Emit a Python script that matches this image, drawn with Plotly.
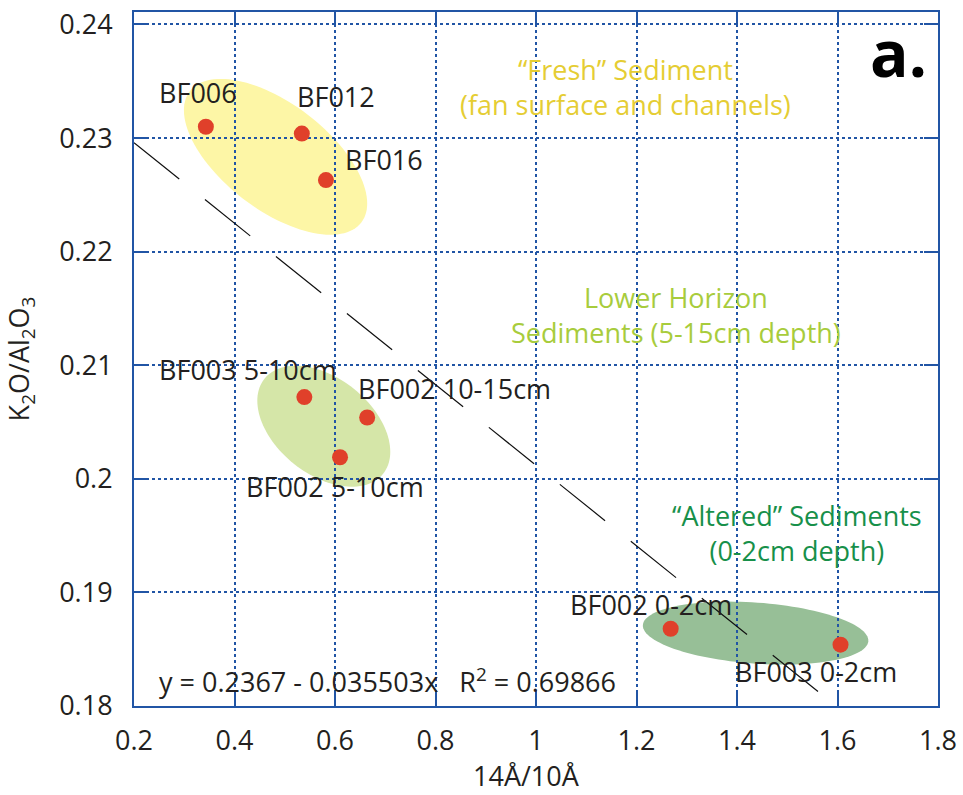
import numpy as np
import plotly.graph_objects as go

# Sample measurements: clay ratio (14Å/10Å) vs K2O/Al2O3
samples = ["BF006", "BF012", "BF016",
           "BF003 5-10cm", "BF002 10-15cm", "BF002 5-10cm",
           "BF002 0-2cm", "BF003 0-2cm"]
clay_ratio = [0.343, 0.534, 0.582, 0.539, 0.664, 0.610, 1.268, 1.606]
k2o_al2o3 = [0.2310, 0.2304, 0.2263, 0.2072, 0.2054, 0.2019, 0.1868, 0.1854]
# label offsets (px) relative to each point
label_dx = [-8, 34, 58, -56, 87, -5, -20, -25]
label_dy = [34, 37, 21, 28, 29, -29, 24, -27]

# Linear fit reported on the chart
fit_intercept = 0.2367
fit_slope = -0.035503
fit_r2 = 0.69866
fit_x = [0.2, 1.57]

# Group envelopes: centre (data), semi-axes (px), tilt (deg, clockwise on screen), fill
groups = ["fresh", "lower", "altered"]
env_cx = [0.4817, 0.5777, 1.437]
env_cy = [0.22835, 0.20463, 0.18642]
env_a = [108, 76, 113]
env_b = [53, 48, 30.5]
env_tilt = [37.4, 38.7, 4.1]
env_fill = ["#fdf6a6", "#d5e6a8", "#97bf97"]

# Group captions
captions = ["\u201cFresh\u201d Sediment<br>(fan surface and channels)",
            "Lower Horizon<br>Sediments (5-15cm depth)",
            "\u201cAltered\u201d Sediments<br>(0-2cm depth)"]
cap_x = [1.179, 1.279, 1.519]
cap_y = [0.23447, 0.21444, 0.19523]
cap_col = ["#e5cd33", "#a8cc3c", "#17904a"]

x_ticks = [0.2, 0.4, 0.6, 0.8, 1.0, 1.2, 1.4, 1.6, 1.8]
x_ticktext = ["0.2", "0.4", "0.6", "0.8", "1", "1.2", "1.4", "1.6", "1.8"]
y_ticks = [0.18, 0.19, 0.20, 0.21, 0.22, 0.23, 0.24]
y_ticktext = ["0.18", "0.19", "0.2", "0.21", "0.22", "0.23", "0.24"]

X_RANGE = [0.2, 1.8]
Y_RANGE = [0.18, 0.2411]
W, H = 963, 795
M = dict(l=134, r=25, t=12, b=89)
PLOT_W = W - M["l"] - M["r"]
PLOT_H = H - M["t"] - M["b"]
px_per_x = PLOT_W / (X_RANGE[1] - X_RANGE[0])
px_per_y = PLOT_H / (Y_RANGE[1] - Y_RANGE[0])

BLUE = "#2155a5"
INK = "#231f20"
FONT = "Open Sans"


def ellipse_path(cx, cy, a, b, tilt_deg, n=120):
    t = np.linspace(0, 2 * np.pi, n, endpoint=False)
    th = np.deg2rad(tilt_deg)
    dx = a * np.cos(t) * np.cos(th) - b * np.sin(t) * np.sin(th)
    dy = a * np.cos(t) * np.sin(th) + b * np.sin(t) * np.cos(th)
    xs = cx + dx / px_per_x
    ys = cy - dy / px_per_y
    pts = [f"{x:.6f},{y:.7f}" for x, y in zip(xs, ys)]
    return "M " + " L ".join(pts) + " Z"


fig = go.Figure()

shapes = []
for i in range(len(groups)):
    shapes.append(dict(type="path", xref="x", yref="y", layer="below",
                       path=ellipse_path(env_cx[i], env_cy[i], env_a[i], env_b[i], env_tilt[i]),
                       fillcolor=env_fill[i], line=dict(width=0)))

# regression line
fx = np.array(fit_x)
fig.add_trace(go.Scatter(x=fx, y=fit_intercept + fit_slope * fx, mode="lines",
                         line=dict(color="#111111", width=1.2, dash="58px,33px"),
                         hoverinfo="skip", showlegend=False))

fig.add_trace(go.Scatter(x=clay_ratio, y=k2o_al2o3, mode="markers",
                         marker=dict(color="#e0402a", size=16, line=dict(width=0)),
                         text=samples, showlegend=False))

annotations = []
for i, s in enumerate(samples):
    annotations.append(dict(x=clay_ratio[i], y=k2o_al2o3[i], text=s, showarrow=False,
                            xshift=label_dx[i], yshift=label_dy[i],
                            xanchor="center", yanchor="middle",
                            font=dict(family=FONT, size=27, color=INK)))
for i, s in enumerate(captions):
    annotations.append(dict(x=cap_x[i], y=cap_y[i], text=s, showarrow=False,
                            xanchor="center", yanchor="middle", align="center",
                            font=dict(family=FONT, size=27, color=cap_col[i])))
annotations.append(dict(x=0.2 + (157 - M["l"]) / px_per_x, y=0.18 + (H - M["b"] - 680) / px_per_y,
                        text=f"y = {fit_intercept} - {-fit_slope}x   R<sup>2</sup> = {fit_r2}",
                        showarrow=False, xanchor="left", yanchor="middle",
                        font=dict(family=FONT, size=27, color=INK)))
# panel letter
annotations.append(dict(xref="paper", yref="paper",
                        x=(898 - M["l"]) / PLOT_W, y=1 - (52 - M["t"]) / PLOT_H,
                        text="<b>a.</b>", showarrow=False,
                        xanchor="center", yanchor="middle",
                        font=dict(family=FONT, size=64, color="#000000")))
# x-axis title
annotations.append(dict(xref="paper", yref="paper",
                        x=(526 - M["l"]) / PLOT_W, y=-(775 - (H - M["b"])) / PLOT_H,
                        text="14Å/10Å", showarrow=False, xanchor="center", yanchor="middle",
                        font=dict(family=FONT, size=27, color=INK)))

axis_common = dict(showline=True, linecolor=BLUE, linewidth=2, mirror="ticks",
                   ticks="inside", ticklen=14, tickwidth=2, tickcolor=BLUE,
                   showgrid=True, gridcolor=BLUE, gridwidth=2, griddash="dot",
                   zeroline=False, automargin=False,
                   tickfont=dict(family=FONT, size=27, color=INK))

fig.update_layout(
    width=W, height=H, margin=dict(M, autoexpand=False),
    plot_bgcolor="white", paper_bgcolor="white",
    shapes=shapes, annotations=annotations, showlegend=False,
    xaxis=dict(range=X_RANGE, tickvals=x_ticks, ticktext=x_ticktext,
               ticklabelstandoff=10, **axis_common),
    yaxis=dict(range=Y_RANGE, tickvals=y_ticks, ticktext=y_ticktext,
               ticklabelstandoff=14,
               title=dict(text="K<sub>2</sub>O/Al<sub>2</sub>O<sub>3</sub>",
                          font=dict(family=FONT, size=27, color=INK), standoff=22),
               **axis_common),
)

fig.write_html("out.html")
